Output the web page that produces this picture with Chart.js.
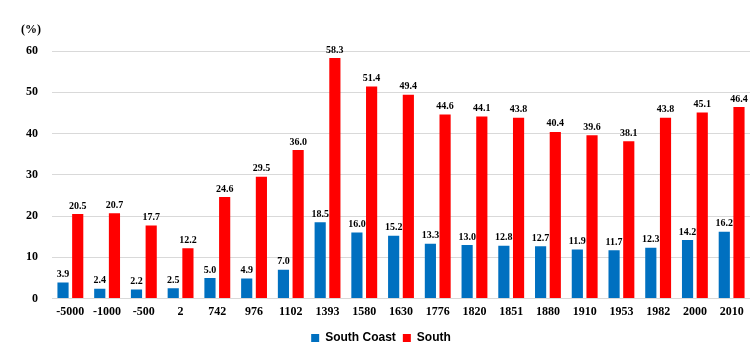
<!DOCTYPE html>
<html>
<head>
<meta charset="utf-8">
<script src="https://cdn.jsdelivr.net/npm/chart.js@4/dist/chart.umd.min.js"></script>
<style>
html,body{margin:0;padding:0;background:#fff;}
#wrap{position:relative;width:756px;height:354px;}
</style>
</head>
<body>
<div id="wrap"><canvas id="c" width="756" height="354"></canvas></div>
<script>
const categories = ["-5000","-1000","-500","2","742","976","1102","1393","1580","1630","1776","1820","1851","1880","1910","1953","1982","2000","2010"];
const southCoast = [3.9,2.4,2.2,2.5,5.0,4.9,7.0,18.5,16.0,15.2,13.3,13.0,12.8,12.7,11.9,11.7,12.3,14.2,16.2];
const south = [20.5,20.7,17.7,12.2,24.6,29.5,36.0,58.3,51.4,49.4,44.6,44.1,43.8,40.4,39.6,38.1,43.8,45.1,46.4];
const yTicks = [0,10,20,30,40,50,60];
const unitLabel = "(%)";

const labelPlugin = {
  id: 'valueLabels',
  afterDatasetsDraw(chart) {
    const ctx = chart.ctx;
    ctx.save();
    ctx.font = 'bold 10px "Liberation Serif", "Times New Roman", serif';
    ctx.fillStyle = '#000';
    ctx.textAlign = 'center';
    ctx.textBaseline = 'bottom';
    chart.data.datasets.forEach((ds, di) => {
      const meta = chart.getDatasetMeta(di);
      meta.data.forEach((bar, i) => {
        ctx.fillText(ds.data[i].toFixed(1), bar.x, bar.y - 3);
      });
    });
    ctx.font = 'bold 12px "Liberation Serif", "Times New Roman", serif';
    ctx.textAlign = 'center';
    ctx.textBaseline = 'middle';
    ctx.fillText(unitLabel, 31, 30);
    ctx.restore();
  }
};

new Chart(document.getElementById('c'), {
  type: 'bar',
  data: {
    labels: categories,
    datasets: [
      {label: 'South Coast', data: southCoast, backgroundColor: '#0070C0', borderWidth: 0},
      {label: 'South', data: south, backgroundColor: '#FF0000', borderWidth: 0}
    ]
  },
  options: {
    responsive: false,
    animation: false,
    devicePixelRatio: 1,
    layout: {padding: {top: 51, right: 6, left: 12, bottom: 0}},
    datasets: {bar: {categoryPercentage: 0.8, barPercentage: 0.76}},
    plugins: {
      legend: {
        position: 'bottom',
        labels: {
          boxWidth: 8, boxHeight: 8, padding: 7,
          color: '#000',
          font: {family: '"Liberation Sans", Arial, sans-serif', size: 12, weight: 'bold'}
        }
      },
      tooltip: {enabled: false}
    },
    scales: {
      x: {
        grid: {display: false, drawTicks: false},
        border: {display: false},
        ticks: {color: '#000', padding: 6, maxRotation: 0, autoSkip: false,
          font: {family: '"Liberation Serif", "Times New Roman", serif', size: 12, weight: 'bold'}}
      },
      y: {
        min: 0, max: 60,
        afterBuildTicks(axis) { axis.ticks = yTicks.map(v => ({value: v})); },
        grid: {color: '#d9d9d9', lineWidth: 1, drawTicks: false},
        border: {display: false},
        ticks: {color: '#000', padding: 14,
          font: {family: '"Liberation Serif", "Times New Roman", serif', size: 12, weight: 'bold'}}
      }
    }
  },
  plugins: [labelPlugin]
});
</script>
</body>
</html>
